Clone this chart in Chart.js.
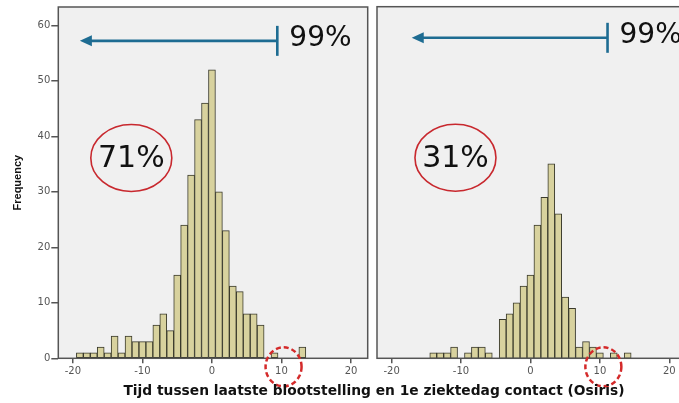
<!DOCTYPE html>
<html>
<head>
<meta charset="utf-8">
<script src="https://cdn.jsdelivr.net/npm/chart.js@4"></script>
<style>
  body { margin: 0; background: #fff; overflow: hidden; width: 679px; height: 403px; position: relative; }
  canvas { position: absolute; top: 0; }
  #left { left: 0; }
  #right { left: 372px; }
  #xtitle {
    position: absolute; left: 0; width: 748px; top: 382px; text-align: center;
    font: bold 13.8px "DejaVu Sans", sans-serif; color: #111;
  }
</style>
</head>
<body>
<canvas id="left" width="372" height="403"></canvas>
<canvas id="right" width="320" height="403"></canvas>
<div id="xtitle">Tijd tussen laatste blootstelling en 1e ziektedag contact (Osiris)</div>
<script>
// days between exposure and first day of illness, per panel
const leftDays = [-19, -18, -17, -16, -15, -14, -13, -12, -11, -10, -9, -8, -7, -6, -5, -4, -3, -2, -1, 0, 1, 2, 3, 4, 5, 6, 7, 8, 9, 10, 11, 12, 13];
const leftCounts = [1, 1, 1, 2, 1, 4, 1, 4, 3, 3, 3, 6, 8, 5, 15, 24, 33, 43, 46, 52, 30, 23, 13, 12, 8, 8, 6, 0, 1, 0, 0, 0, 2];
const rightDays = [-14, -13, -12, -11, -10, -9, -8, -7, -6, -5, -4, -3, -2, -1, 0, 1, 2, 3, 4, 5, 6, 7, 8, 9, 10, 11, 12, 13, 14];
const rightCounts = [1, 1, 1, 2, 0, 1, 2, 2, 1, 0, 7, 8, 10, 13, 15, 24, 29, 35, 26, 11, 9, 2, 3, 2, 1, 0, 1, 0, 1];
const xTicks = [-20, -10, 0, 10, 20];
const yTicks = [0, 10, 20, 30, 40, 50, 60];
const shares = { left: ['71%', '99%'], right: ['31%', '99%'] };

const tickFont = { family: 'DejaVu Sans', size: 10 };

// gray plot background, frame and the hand drawn marks
const notes = {
  id: 'notes',
  beforeDraw(chart) {
    const a = chart.chartArea, ctx = chart.ctx;
    ctx.save();
    ctx.fillStyle = '#f0f0f0';
    ctx.fillRect(a.left, a.top, a.right - a.left, a.bottom - a.top);
    ctx.restore();
  },
  afterDatasetsDraw(chart) {
    const a = chart.chartArea, ctx = chart.ctx;
    ctx.save();
    ctx.strokeStyle = '#555';
    ctx.lineWidth = 1.5;
    ctx.strokeRect(a.left, a.top, a.right - a.left, a.bottom - a.top);
    ctx.restore();
  },
  afterDraw(chart, args, o) {
    const ctx = chart.ctx, x = chart.scales.x, y = chart.scales.y;
    ctx.save();
    // arrow towards the left with end bar
    const ay = y.getPixelForValue(o.arrowY);
    const ax0 = x.getPixelForValue(o.arrowTip), ax1 = x.getPixelForValue(o.arrowEnd);
    ctx.strokeStyle = '#1e6c92';
    ctx.fillStyle = '#1e6c92';
    ctx.lineWidth = 2.6;
    ctx.beginPath();
    ctx.moveTo(ax0 + 8, ay);
    ctx.lineTo(ax1, ay);
    ctx.stroke();
    ctx.beginPath();
    ctx.moveTo(ax1, ay - 15);
    ctx.lineTo(ax1, ay + 15);
    ctx.stroke();
    ctx.beginPath();
    ctx.moveTo(ax0, ay);
    ctx.lineTo(ax0 + 12, ay - 5.5);
    ctx.lineTo(ax0 + 12, ay + 5.5);
    ctx.closePath();
    ctx.fill();
    ctx.fillStyle = '#111';
    ctx.font = '28px "DejaVu Sans"';
    ctx.textBaseline = 'middle';
    ctx.textAlign = 'left';
    ctx.fillText(o.tail, ax1 + 12, ay - 2);

    // red ellipse with share
    const ex = x.getPixelForValue(o.ellX), ey = y.getPixelForValue(o.ellY);
    ctx.strokeStyle = '#c8282e';
    ctx.lineWidth = 1.6;
    ctx.beginPath();
    ctx.ellipse(ex, ey, 40.5, 33.5, 0, 0, Math.PI * 2);
    ctx.stroke();
    ctx.font = '30px "DejaVu Sans"';
    ctx.textAlign = 'center';
    ctx.fillText(o.share, ex, ey + 1);

    // dashed circle round the 10 tick
    const cx = x.getPixelForValue(o.circleX), cy = y.getPixelForValue(0) + 8.5;
    ctx.strokeStyle = '#d42a2a';
    ctx.lineWidth = 2.5;
    ctx.setLineDash([5, 3]);
    ctx.beginPath();
    ctx.ellipse(cx, cy, 18, 19.5, 0, 0, Math.PI * 2);
    ctx.stroke();
    ctx.restore();
  }
};

function makeChart(id, days, counts, text, showY, pad, note) {
  return new Chart(document.getElementById(id), {
    type: 'bar',
    data: {
      datasets: [{
        data: days.map((d, i) => ({ x: d, y: counts[i] })),
        backgroundColor: '#d8d29e',
        borderColor: '#3a3a2c',
        borderWidth: c => (c.raw && c.raw.y ? 1 : 0),
        borderSkipped: false,
        barPercentage: 1,
        categoryPercentage: 1
      }]
    },
    options: {
      responsive: false,
      animation: false,
      layout: { padding: pad },
      plugins: {
        legend: { display: false },
        tooltip: { enabled: false },
        notes: Object.assign({ share: text[0], tail: text[1] }, note)
      },
      scales: {
        x: {
          type: 'linear',
          offset: false,
          min: -22.1,
          max: 22.4,
          afterFit: s => { s.height = 44.7; },
          afterBuildTicks: s => { s.ticks = xTicks.map(v => ({ value: v })); },
          grid: { display: true, offset: false, drawOnChartArea: false, drawTicks: true, tickLength: 5, color: '#555', lineWidth: 1.5 },
          border: { display: false },
          ticks: { color: '#555', font: tickFont, padding: 2, maxRotation: 0 }
        },
        y: {
          display: showY,
          min: 0,
          max: 63.3,
          afterFit: s => { s.width = showY ? 47.3 : 0; },
          afterBuildTicks: s => { s.ticks = yTicks.map(v => ({ value: v })); },
          grid: { display: true, drawOnChartArea: false, drawTicks: true, tickLength: 7, color: '#555', lineWidth: 1.5 },
          border: { display: false },
          ticks: { color: '#555', font: tickFont, padding: 1 },
          title: {
            display: true,
            text: 'Frequency',
            color: '#111',
            font: { family: 'Liberation Sans', size: 11, weight: 'bold' },
            padding: { top: 0, bottom: 0 }
          }
        }
      }
    },
    plugins: [notes]
  });
}

makeChart('left', leftDays, leftCounts, shares.left, true,
  { left: 11, top: 6.7, right: 4.3, bottom: 0 },
  { arrowTip: -19, arrowEnd: 9.4, arrowY: 57.2, ellX: -11.6, ellY: 36.1, circleX: 10.3 });
makeChart('right', rightDays, rightCounts, shares.right, false,
  { left: 5, top: 6.7, right: 6, bottom: 0 },
  { arrowTip: -17.1, arrowEnd: 11.1, arrowY: 57.7, ellX: -10.8, ellY: 36.1, circleX: 10.5 });
</script>
</body>
</html>
